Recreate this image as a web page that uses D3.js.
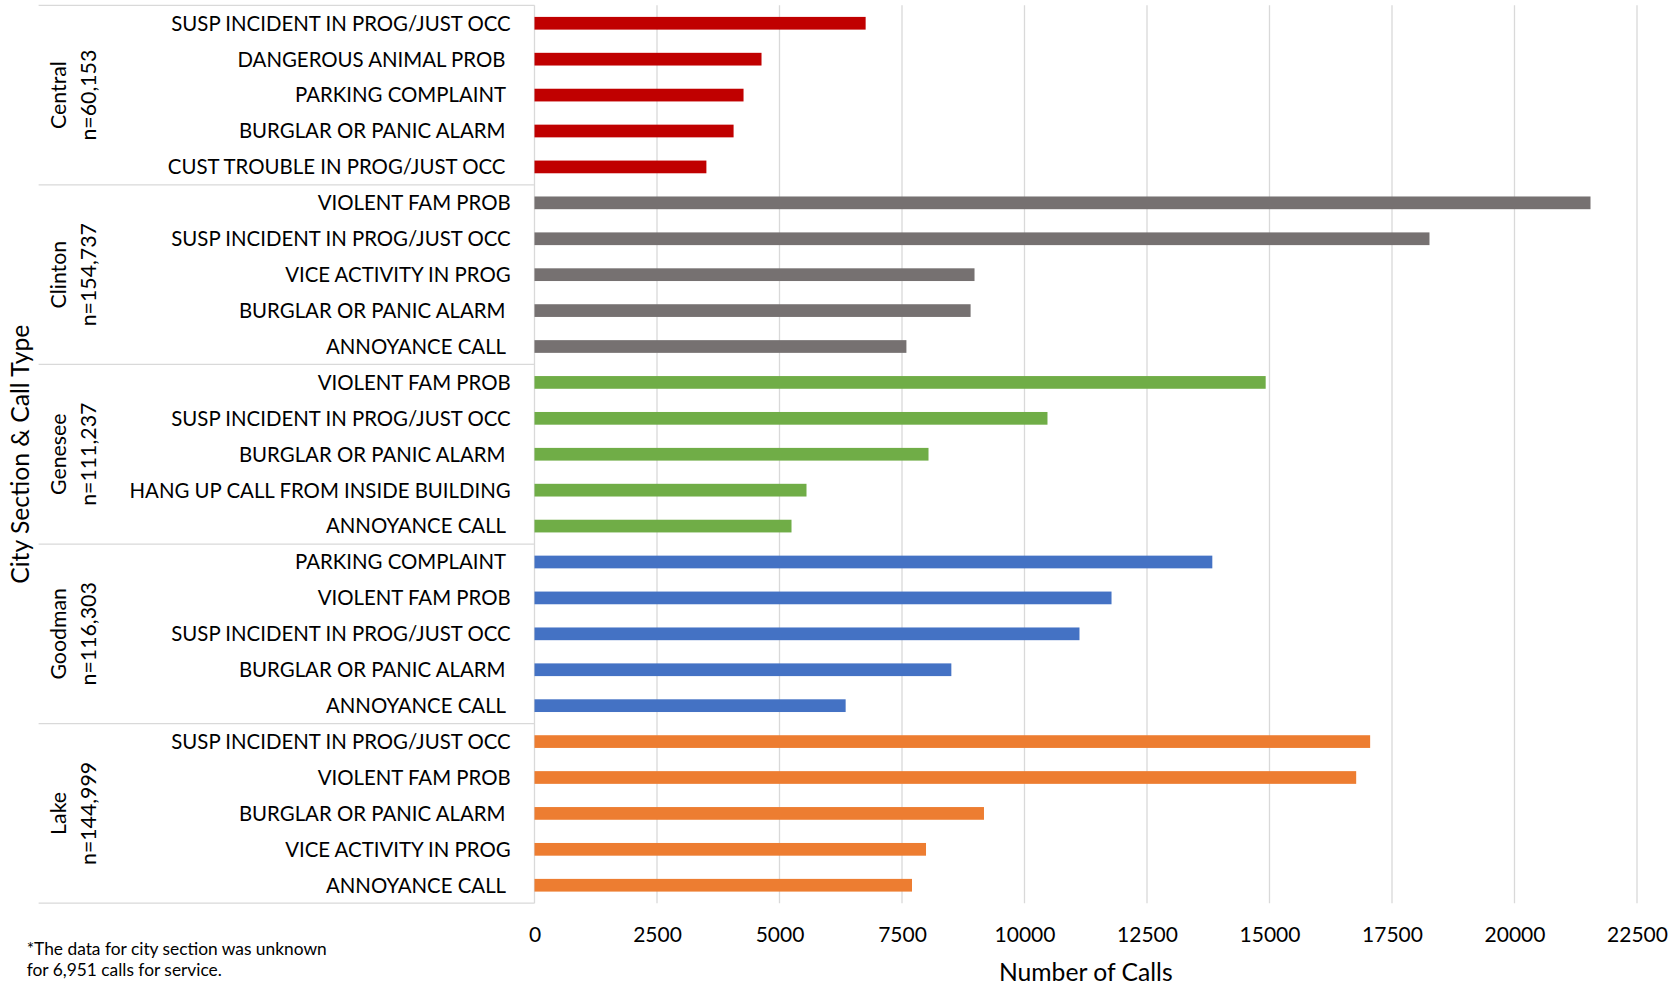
<!DOCTYPE html>
<html>
<head>
<meta charset="utf-8">
<script src="https://cdn.jsdelivr.net/npm/d3@7"></script>
<style>
  html, body { margin: 0; padding: 0; background: #ffffff; }
  svg { display: block; }
  text { font-family: Lato, "Open Sans", sans-serif; fill: #000; }
</style>
</head>
<body>
<script>
// ---------------- data ----------------
const sections = ["Central", "Clinton", "Genesee", "Goodman", "Lake"];
const sectionTotals = ["n=60,153", "n=154,737", "n=111,237", "n=116,303", "n=144,999"];

const centralTypes = ["SUSP INCIDENT IN PROG/JUST OCC", "DANGEROUS ANIMAL PROB ", "PARKING COMPLAINT ", "BURGLAR OR PANIC ALARM ", "CUST TROUBLE IN PROG/JUST OCC "];
const centralCalls = [6758, 4633, 4266, 4063, 3508];

const clintonTypes = ["VIOLENT FAM PROB", "SUSP INCIDENT IN PROG/JUST OCC", "VICE ACTIVITY IN PROG", "BURGLAR OR PANIC ALARM ", "ANNOYANCE CALL "];
const clintonCalls = [21551, 18265, 8980, 8900, 7590];

const geneseeTypes = ["VIOLENT FAM PROB", "SUSP INCIDENT IN PROG/JUST OCC", "BURGLAR OR PANIC ALARM ", "HANG UP CALL FROM INSIDE BUILDING", "ANNOYANCE CALL "];
const geneseeCalls = [14922, 10469, 8041, 5551, 5245];

const goodmanTypes = ["PARKING COMPLAINT ", "VIOLENT FAM PROB", "SUSP INCIDENT IN PROG/JUST OCC", "BURGLAR OR PANIC ALARM ", "ANNOYANCE CALL "];
const goodmanCalls = [13833, 11776, 11122, 8507, 6350];

const lakeTypes = ["SUSP INCIDENT IN PROG/JUST OCC", "VIOLENT FAM PROB", "BURGLAR OR PANIC ALARM ", "VICE ACTIVITY IN PROG", "ANNOYANCE CALL "];
const lakeCalls = [17054, 16769, 9173, 7990, 7704];

const xTicks = [0, 2500, 5000, 7500, 10000, 12500, 15000, 17500, 20000, 22500];
const sectionColors = ["#C00000", "#767171", "#70AD47", "#4472C4", "#ED7D31"];

const yTitle = "City Section & Call Type";
const xTitle = "Number of Calls";
const footnote = ["*The data for city section was unknown", "for 6,951 calls for service."];

// ---------------- build rows ----------------
const typeLists = [centralTypes, clintonTypes, geneseeTypes, goodmanTypes, lakeTypes];
const callLists = [centralCalls, clintonCalls, geneseeCalls, goodmanCalls, lakeCalls];
const rows = [];
sections.forEach((s, si) => {
  typeLists[si].forEach((t, ti) => {
    rows.push({ section: s, si: si, type: t, value: callLists[si][ti], idx: rows.length });
  });
});

// ---------------- layout ----------------
const W = 1674, H = 992;
const plotTop = 5.3, plotBottom = 903.2;
const plotLeft = 534.5, plotRight = 1637;
const gridColor = "#D9D9D9";

const svg = d3.select("body").append("svg").attr("width", W).attr("height", H);

const x = d3.scaleLinear().domain([0, 22500]).range([plotLeft, plotRight]);
const y = d3.scaleBand()
  .domain(rows.map(r => r.idx))
  .range([plotTop, plotBottom])
  .paddingInner(0.646)
  .paddingOuter(0.323);
const step = y.step();

// gridlines
svg.append("g").selectAll("line")
  .data(xTicks.slice(1))
  .join("line")
  .attr("x1", d => x(d)).attr("x2", d => x(d))
  .attr("y1", plotTop).attr("y2", plotBottom)
  .attr("stroke", gridColor).attr("stroke-width", 1.3);

// vertical axis line
svg.append("line")
  .attr("x1", x(0)).attr("x2", x(0))
  .attr("y1", plotTop).attr("y2", plotBottom)
  .attr("stroke", gridColor).attr("stroke-width", 1.3);

// group separator lines
const boundaries = d3.range(sections.length + 1).map(i => plotTop + i * 5 * step);
svg.append("g").selectAll("line")
  .data(boundaries)
  .join("line")
  .attr("x1", 38.6).attr("x2", x(0))
  .attr("y1", d => d).attr("y2", d => d)
  .attr("stroke", gridColor).attr("stroke-width", 1.3);

// bars
svg.append("g").selectAll("rect")
  .data(rows)
  .join("rect")
  .attr("x", x(0))
  .attr("y", d => y(d.idx))
  .attr("width", d => x(d.value) - x(0))
  .attr("height", y.bandwidth())
  .attr("fill", d => sectionColors[d.si]);

// category labels
svg.append("g").selectAll("text")
  .data(rows)
  .join("text")
  .attr("xml:space", "preserve")
  .style("white-space", "pre")
  .attr("x", 510.7)
  .attr("y", d => y(d.idx) + y.bandwidth() / 2)
  .attr("dy", "0.36em")
  .attr("text-anchor", "end")
  .style("font-size", "20.4px")
  .text(d => d.type);

// section labels (rotated, two lines)
const secG = svg.append("g").selectAll("g")
  .data(sections)
  .join("g")
  .attr("transform", (d, i) => {
    const cy = (boundaries[i] + boundaries[i + 1]) / 2;
    return `translate(0,${cy}) rotate(-90)`;
  });
secG.append("text")
  .attr("x", 0).attr("y", 66)
  .attr("text-anchor", "middle")
  .style("font-size", "21.3px")
  .text(d => d);
secG.append("text")
  .attr("x", 0).attr("y", 96)
  .attr("text-anchor", "middle")
  .style("font-size", "21.3px")
  .text((d, i) => sectionTotals[i]);

// x axis tick labels
const xAxis = d3.axisBottom(x).tickValues(xTicks).tickSize(0).tickPadding(0).tickFormat(d3.format("d"));
const ax = svg.append("g").attr("transform", `translate(0,${plotBottom})`).call(xAxis);
ax.select(".domain").remove();
ax.selectAll("text")
  .attr("y", 38.5)
  .attr("dy", 0)
  .style("font-family", "Lato, 'Open Sans', sans-serif")
  .style("font-size", "21px")
  .attr("fill", "#000");

// axis titles
svg.append("text")
  .attr("x", (plotLeft + plotRight) / 2)
  .attr("y", 981)
  .attr("text-anchor", "middle")
  .style("font-size", "24.7px")
  .text(xTitle);

svg.append("text")
  .attr("transform", `translate(29,${(plotTop + plotBottom) / 2}) rotate(-90)`)
  .attr("text-anchor", "middle")
  .style("font-size", "24.7px")
  .text(yTitle);

// footnote
svg.append("g").selectAll("text")
  .data(footnote)
  .join("text")
  .attr("x", 26.7)
  .attr("y", (d, i) => 954.5 + i * 21.5)
  .style("font-size", "17.35px")
  .text(d => d);
</script>
</body>
</html>
